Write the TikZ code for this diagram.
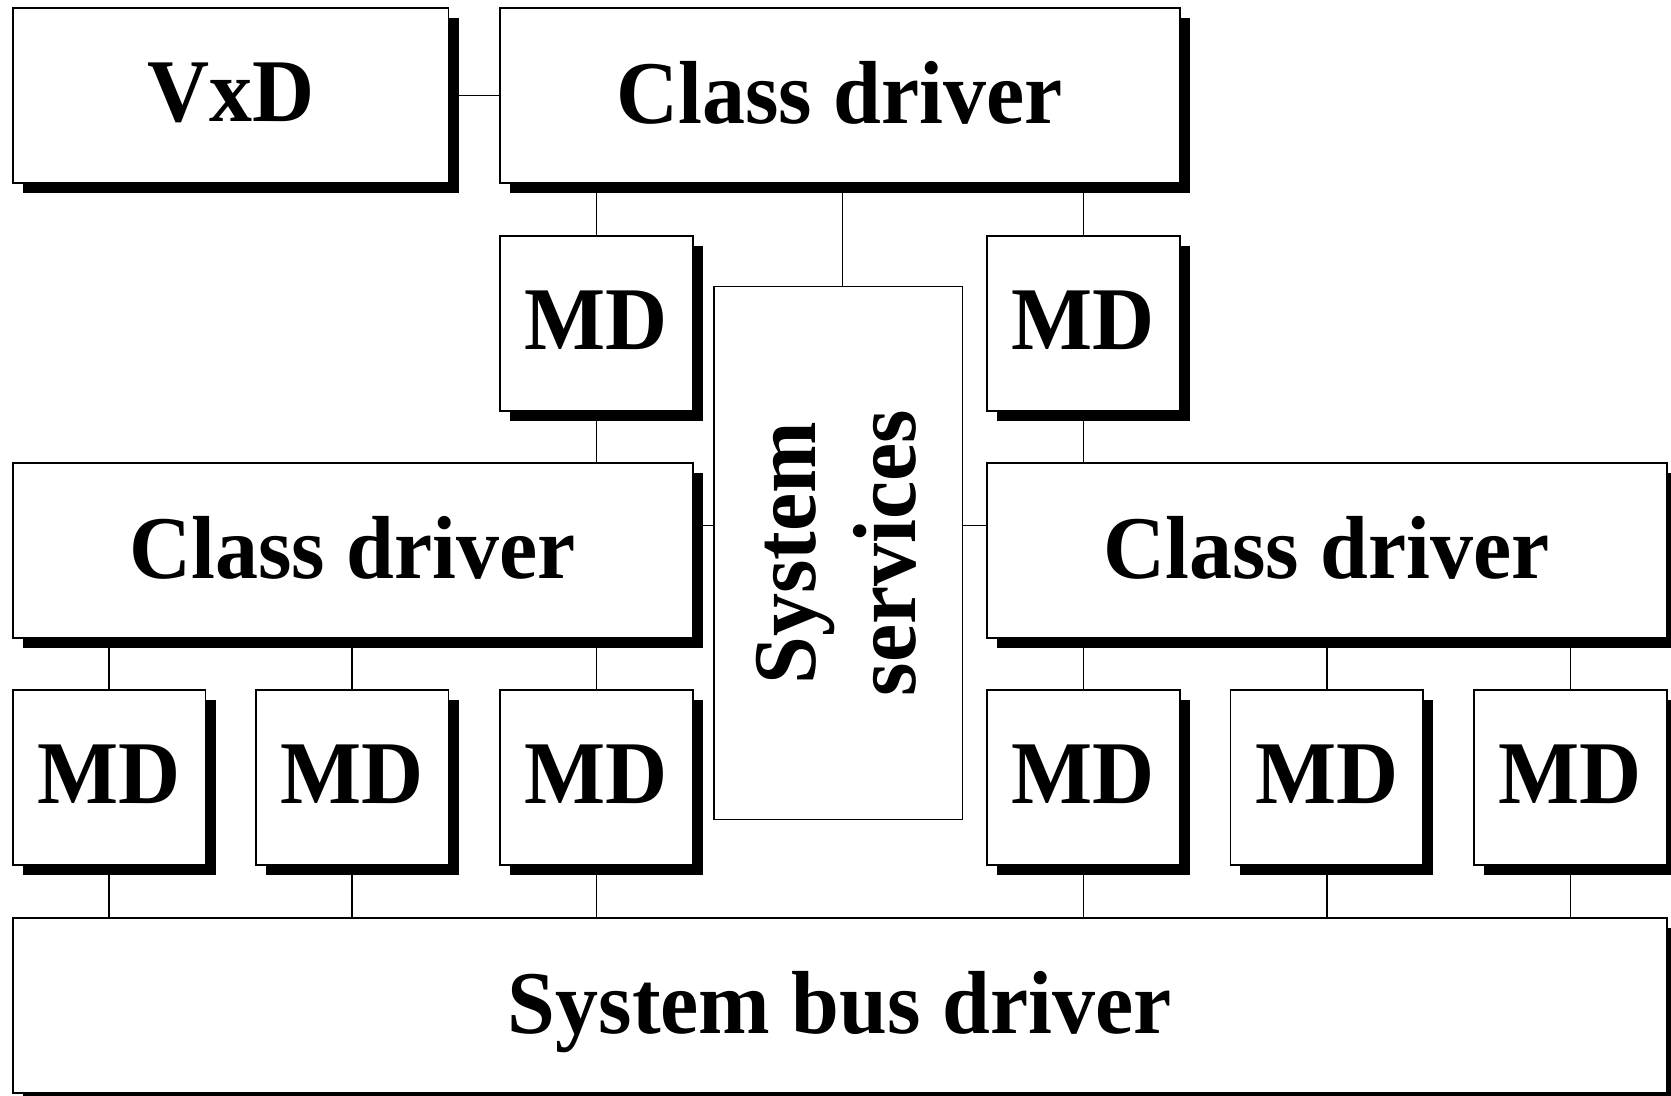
\documentclass[tikz,border=0pt]{standalone}
\usepackage{fontspec}
\setmainfont{Liberation Serif}[FakeStretch=0.96]
\usetikzlibrary{shadows}

\begin{document}
\begin{tikzpicture}[x=1pt,y=-1pt,
  box/.style={draw=black, line width=1.5pt, fill=white, inner sep=0pt,
    minimum height=164pt, text depth=6pt,
    font=\fontsize{84}{95}\selectfont\bfseries,
    drop shadow={shadow xshift=9.5pt, shadow yshift=-9.5pt, fill=black, opacity=1}},
  mdbox/.style={box, minimum width=181pt},
  widebox/.style={box, minimum width=638pt},
  plainbox/.style={draw=black, line width=1.5pt, fill=white, inner sep=0pt},
  vlabel/.style={rotate=90, align=center, inner sep=0pt,
    font=\fontsize{84}{94}\selectfont\bfseries},
  wire/.style={draw=black, line width=1.4pt}]

\useasboundingbox (0,0) rectangle (1568,1028);
\clip (0,0) rectangle (1568,1028);
\fill[white] (0,0) rectangle (1568,1028);

% top row
\node[box, minimum width=409pt] (vxd) at (216.5,89.5) {VxD};
\node[widebox] (cdtop) at (788,89.5) {Class driver};

% mini drivers under the top class driver
\node[mdbox] (mdtl) at (559.5,303.5) {MD};
\node[mdbox] (mdtr) at (1016.5,303.5) {MD};

% system services column
\node[plainbox, minimum width=233pt, minimum height=500pt] (sys) at (786.5,519) {};
\node[vlabel] (systext) at ([xshift=-2pt]sys.center) {System\\services};

% middle class drivers
\node[widebox] (cdl) at (331,516.5) {Class driver};
\node[widebox] (cdr) at (1245,516.5) {Class driver};

% bottom mini drivers
\node[mdbox] (mdb1) at (102.5,729.5) {MD};
\node[mdbox] (mdb2) at (330.5,729.5) {MD};
\node[mdbox] (mdb3) at (559.5,729.5) {MD};
\node[mdbox] (mdb4) at (1016.5,729.5) {MD};
\node[mdbox] (mdb5) at (1245,729.5) {MD};
\node[mdbox] (mdb6) at (1473.5,729.5) {MD};

% bus driver
\node[box, minimum width=1552pt] (bus) at (788,943.5) {System bus driver};

% connectors
\draw[wire] (vxd.east) -- (cdtop.west);
\draw[wire] (mdtl.north) -- (mdtl.north |- cdtop.south);
\draw[wire] (mdtr.north) -- (mdtr.north |- cdtop.south);
\coordinate (systop) at ([xshift=4pt]sys.north);
\draw[wire] (systop) -- (systop |- cdtop.south);
\draw[wire] (mdtl.south) -- (mdtl.south |- cdl.north);
\draw[wire] (mdtr.south) -- (mdtr.south |- cdr.north);
\coordinate (sysl) at ([yshift=26pt]sys.west);
\coordinate (sysr) at ([yshift=26pt]sys.east);
\draw[wire] (sysl) -- (sysl -| cdl.east);
\draw[wire] (sysr) -- (sysr -| cdr.west);
\foreach \m in {mdb1,mdb2,mdb3}
  \draw[wire] (\m.north) -- (\m.north |- cdl.south);
\foreach \m in {mdb4,mdb5,mdb6}
  \draw[wire] (\m.north) -- (\m.north |- cdr.south);
\foreach \m in {mdb1,mdb2,mdb3,mdb4,mdb5,mdb6}
  \draw[wire] (\m.south) -- (\m.south |- bus.north);
\end{tikzpicture}
\end{document}
